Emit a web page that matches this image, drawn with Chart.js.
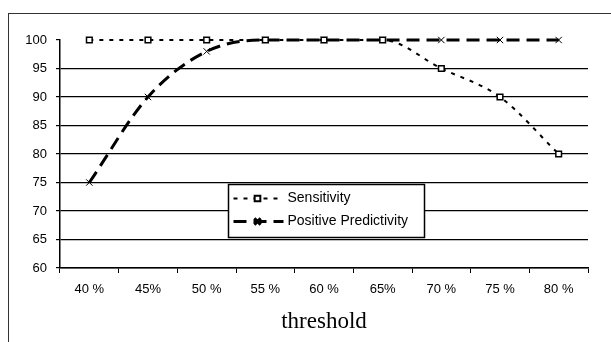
<!DOCTYPE html>
<html>
<head>
<meta charset="utf-8">
<script src="https://cdn.jsdelivr.net/npm/chart.js@4"></script>
<style>
	html, body { margin: 0; padding: 0; background: #fff; overflow: hidden; }
	#wrap { position: relative; width: 611px; height: 342px; }
	#frame {
		position: absolute; left: 8px; top: 13px; width: 700px; height: 400px;
		border: 1.5px solid #333; box-sizing: border-box;
	}
	canvas { position: absolute; left: 0; top: 0; }
</style>
</head>
<body>
<div id="wrap">
	<div id="frame"></div>
	<canvas id="thresholdChart" width="611" height="342"></canvas>
</div>
<script>
const thresholds = ["40 %", "45%", "50 %", "55 %", "60 %", "65%", "70 %", "75 %", "80 %"];
const sensitivity = [100, 100, 100, 100, 100, 100, 95, 90, 80];
const positivePredictivity = [75, 90, 98, 100, 100, 100, 100, 100, 100];
const yTicks = [60, 65, 70, 75, 80, 85, 90, 95, 100];

// legend box drawn inside the plot, like the Excel original
const boxLegend = {
	id: "boxLegend",
	afterDraw(chart) {
		const ctx = chart.ctx;
		const x = 228.5, y = 184.5, w = 196, h = 53;
		ctx.save();
		ctx.fillStyle = "#fff";
		ctx.fillRect(x, y, w, h);
		ctx.strokeStyle = "#000";
		ctx.lineWidth = 1.5;
		ctx.strokeRect(x, y, w, h);
		chart.data.datasets.forEach((ds, i) => {
			const cy = y + 14 + i * 23;
			ctx.strokeStyle = "#000";
			ctx.lineWidth = ds.borderWidth;
			ctx.setLineDash(ds.borderDash || []);
			ctx.beginPath();
			ctx.moveTo(x + 5, cy);
			ctx.lineTo(x + 55, cy);
			ctx.stroke();
			ctx.setLineDash([]);
			Chart.helpers.drawPoint(ctx, {
				pointStyle: ds.pointStyle,
				radius: ds.pointRadius,
				borderWidth: ds.pointBorderWidth,
				rotation: 0
			}, x + 29, cy);
			ctx.fillStyle = "#000";
			ctx.font = "14px 'Liberation Sans', Arial, sans-serif";
			ctx.textBaseline = "middle";
			ctx.fillText(ds.label, x + 59, cy);
		});
		ctx.restore();
	}
};

const ctxChart = document.getElementById("thresholdChart").getContext("2d");

const thresholdChart = new Chart(ctxChart, {
	type: "line",
	data: {
		labels: thresholds,
		datasets: [
			{
				label: "Sensitivity",
				data: sensitivity,
				clip: false,
				borderColor: "#000",
				borderWidth: 2,
				borderDash: [4, 6],
				cubicInterpolationMode: "monotone",
				pointStyle: "rect",
				pointRadius: 4,
				pointBorderWidth: 1.5,
				pointBorderColor: "#000",
				pointBackgroundColor: "#fff",
				fill: false,
			},
			{
				label: "Positive Predictivity",
				data: positivePredictivity,
				clip: false,
				borderColor: "#000",
				borderWidth: 3,
				borderDash: [13, 7],
				cubicInterpolationMode: "monotone",
				pointStyle: "crossRot",
				pointRadius: 4.5,
				pointBorderWidth: 1,
				pointBorderColor: "#000",
				fill: false,
			},
		],
	},
	options: {
		responsive: false,
		animation: false,
		devicePixelRatio: 1,
		layout: {
			padding: { left: 0, top: 40, right: 23, bottom: 0 },
		},
		plugins: {
			legend: { display: false },
			tooltip: { enabled: false },
		},
		scales: {
			x: {
				offset: true,
				afterFit(scale) { scale.height = 74; },
				grid: {
					display: true,
					drawOnChartArea: false,
					offset: true,
					tickLength: 5,
					tickColor: "#000",
					tickWidth: 1,
				},
				border: { color: "#000", width: 1.5 },
				ticks: {
					color: "#000",
					padding: 9,
					maxRotation: 0,
					font: { family: "'Liberation Sans', Arial, sans-serif", size: 13 },
				},
				title: {
					display: true,
					text: "threshold",
					color: "#000",
					padding: { top: 0, bottom: 6 },
					font: { family: "'Liberation Serif', 'Times New Roman', serif", size: 23 },
				},
			},
			y: {
				min: 60,
				max: 100,
				afterFit(scale) { scale.width = 60; },
				afterBuildTicks(scale) {
					scale.ticks = yTicks.map((v) => ({ value: v }));
				},
				grid: {
					color: (c) => (c.tick && c.tick.value === 100 ? "rgba(0,0,0,0)" : "#000"),
					lineWidth: 1.2,
					tickLength: 4,
					tickColor: "#000",
				},
				border: { color: "#000", width: 1.5 },
				ticks: {
					color: "#000",
					padding: 9,
					font: { family: "'Liberation Sans', Arial, sans-serif", size: 13 },
				},
			},
		},
	},
	plugins: [boxLegend],
});
</script>
</body>
</html>
